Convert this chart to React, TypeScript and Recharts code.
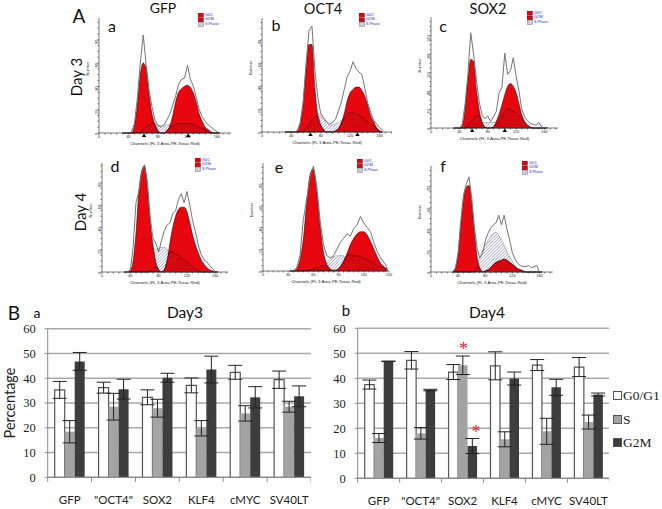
import {
  Area,
  Bar,
  BarChart,
  CartesianGrid,
  ComposedChart,
  ErrorBar,
  Line,
  ReferenceDot,
  XAxis,
  YAxis,
} from 'recharts'

const SANS = 'Lato, "Open Sans", sans-serif'
const SERIF = '"Liberation Serif", serif'
const TINY = '"Liberation Sans", sans-serif'

// flow cytometry histograms: shared channel grid
const channels = [32, 36, 40, 44, 48, 52, 56, 60, 64, 68, 72, 76, 80, 84, 88, 92, 96, 100, 104, 108, 112, 116, 120, 124, 128, 132, 136, 140, 144, 148, 152, 156, 160, 164]

const aRaw = [0, 0, 0, 1, 8, 30, 60, 84, 58, 36, 22, 11, 6, 5, 7, 11, 16, 24, 32, 42, 46, 47, 58, 46, 40, 30, 20, 14, 10, 7, 5, 3, 1, 0]
const aG1 = [0, 0, 0, 0, 6, 24, 50, 60, 55, 32, 16, 7, 2, 0]
const aG2 = [0, 0, 0, 0, 0, 0, 0, 0, 0, 0, 0, 0, 0, 0, 0, 2, 6, 15, 27, 35, 38, 40, 41, 39, 34, 26, 16, 10, 5, 3, 1, 0]
const aS = [0, 0, 0, 0, 0, 0, 0, 0, 0, 8, 8, 8, 7, 6, 6, 7, 7, 0]
const aHatch = [0, 0, 0, 0, 0, 0, 1, 3, 5, 7, 9, 7, 2, 0, 0, 2, 5, 6, 7, 8, 8, 8, 8, 8, 7, 6, 5, 4, 3, 1, 0]

const bRaw = [0, 0, 0, 0, 1, 8, 26, 60, 88, 92, 54, 30, 16, 12, 9, 7, 8, 11, 18, 26, 37, 48, 53, 61, 55, 52, 50, 38, 25, 17, 10, 7, 4, 1]
const bG1 = [0, 0, 0, 0, 1, 7, 24, 54, 76, 76, 38, 14, 6, 2, 0]
const bG2 = [0, 0, 0, 0, 0, 0, 0, 0, 0, 0, 0, 0, 0, 0, 0, 0, 0, 1, 3, 8, 16, 27, 34, 37, 39, 39, 36, 31, 23, 14, 9, 4, 1, 0]
const bS = [0, 0, 0, 0, 0, 0, 0, 0, 0, 0, 0, 16, 14, 11, 8, 6, 6, 7, 8, 10, 0]
const bHatch = [0, 0, 0, 0, 0, 0, 1, 3, 6, 10, 13, 14, 6, 2, 0, 0, 0, 1, 3, 7, 12, 15, 17, 17, 16, 15, 13, 11, 9, 7, 5, 3, 1, 0]

const cRaw = [0, 0, 0, 4, 26, 58, 103, 80, 52, 28, 14, 10, 13, 7, 12, 18, 38, 44, 81, 58, 62, 76, 56, 40, 20, 12, 8, 5, 4, 3, 6, 1, 0, 0]
const cG1 = [0, 0, 0, 2, 20, 52, 74, 72, 41, 19, 6, 1, 0]
const cG2 = [0, 0, 0, 0, 0, 0, 0, 0, 0, 0, 0, 0, 0, 0, 1, 7, 15, 25, 36, 45, 48, 45, 38, 26, 14, 7, 3, 1, 0]
const cS = [0, 0, 0, 0, 0, 0, 0, 0, 0, 6, 6, 6, 6, 6, 6, 6, 0]
const cHatch = [0, 0, 0, 0, 0, 3, 7, 10, 13, 13, 6, 1, 0, 0, 1, 4, 8, 13, 18, 21, 20, 18, 16, 13, 10, 6, 3, 1, 0]

const dRaw = [0, 0, 2, 22, 62, 72, 90, 96, 82, 50, 30, 26, 18, 28, 37, 42, 44, 52, 55, 65, 70, 62, 72, 60, 46, 36, 24, 16, 11, 9, 6, 3, 0, 0]
const dG1 = [0, 0, 1, 10, 34, 71, 90, 95, 75, 44, 24, 9, 2, 0]
const dG2 = [0, 0, 0, 0, 0, 0, 0, 0, 0, 0, 0, 0, 0, 0, 2, 10, 26, 40, 50, 56, 58, 58, 54, 44, 33, 24, 17, 11, 7, 4, 2, 1, 0]
const dS = [0, 0, 0, 0, 0, 0, 0, 0, 0, 0, 16, 20, 21, 22, 22, 20, 10, 0]
const dHatch = [0, 0, 0, 0, 0, 0, 0, 0, 0, 1, 3, 5, 2, 0, 2, 10, 18, 18, 16, 15, 13, 11, 9, 7, 5, 3, 1, 0]

const eRaw = [0, 0, 3, 14, 47, 66, 86, 96, 78, 46, 24, 14, 12, 14, 20, 26, 30, 34, 32, 39, 42, 50, 44, 40, 36, 26, 18, 12, 8, 3]
const eG1 = [0, 0, 2, 10, 29, 62, 88, 94, 72, 41, 17, 6, 2, 0]
const eG2 = [0, 0, 0, 0, 0, 0, 0, 0, 0, 0, 0, 0, 0, 0, 1, 4, 9, 16, 24, 30, 34, 36, 36, 33, 27, 20, 13, 7, 4, 2]
const eS = [0, 0, 0, 0, 0, 0, 0, 0, 0, 0, 0, 8, 11, 13, 14, 14, 14, 0]
const eHatch = [0, 0, 0, 0, 0, 0, 1, 2, 3, 4, 5, 5, 1, 1, 1, 4, 9, 14, 15, 14, 14, 13, 12, 10, 9, 7, 5, 4, 3, 1]

const fRaw = [0, 4, 18, 48, 72, 82, 89, 70, 42, 22, 13, 17, 29, 36, 41, 44, 46, 53, 44, 53, 40, 30, 18, 12, 8, 6, 5, 5, 6, 4, 5, 6, 0, 0]
const fG1 = [0, 3, 16, 44, 68, 79, 81, 64, 37, 14, 4, 0]
const fG2 = [0, 0, 0, 0, 0, 0, 0, 0, 0, 0, 0, 0, 1, 2, 4, 7, 9, 10, 11, 12, 11, 9, 7, 5, 3, 2, 1, 0]
const fS = [0, 0, 0, 0, 0, 0, 0, 0, 0, 8, 14, 20, 25, 29, 33, 36, 37, 34, 30, 25, 19, 14, 10, 6, 3, 1, 0]
const fHatch = [0, 0, 0, 0, 0, 0, 0, 0, 1, 4, 3, 0, 1, 2, 4, 7, 9, 10, 11, 12, 11, 9, 7, 5, 3, 2, 1, 0]

const channelTicks = [0, 8, 16, 24, 32, 40, 48, 56, 64, 72, 80, 88, 96, 104, 112, 120, 128, 136, 144, 152, 160, 168, 176]
const channelTicksE = [0, 6, 12, 18, 24, 30, 36, 42, 48, 54, 60, 66, 72, 78, 84, 90, 96, 102, 108, 114, 120, 126, 132, 138, 144, 150]
const numberTicks = [0, 5, 10, 15, 20, 25, 30, 35, 40, 45, 50, 55, 60, 65, 70, 75, 80, 85, 90, 95]
const numberTicksC = [0, 5, 10, 15, 20, 25, 30, 35, 40, 45, 50, 55, 60, 65, 70, 75, 80, 85, 90, 95, 100, 105, 110, 115]
const phaseNames = ['G0/1', 'G2/M', 'S-Phase']

// bar charts
const cellLines = ['GFP', '"OCT4"', 'SOX2', 'KLF4', 'cMYC', 'SV40LT']

const day3G0 = [35.3, 36.2, 32.3, 37.1, 42.4, 39.4]
const day3S = [18.4, 28.5, 27.9, 19.8, 25.8, 28.5]
const day3G2 = [46.8, 35.6, 40.2, 43.5, 32.3, 32.7]
const day3G0Err = [3.4, 2.2, 3, 3, 2.8, 3.5]
const day3SErr = [4.5, 5.4, 3.6, 3.1, 3.1, 2.2]
const day3G2Err = [3.6, 4, 1.8, 5.4, 4.3, 4.2]

const day4G0 = [37.5, 47.2, 42.5, 45, 45.3, 44.5]
const day4S = [16.1, 18, 45.2, 15.6, 18.8, 22.5]
const day4G2 = [46.8, 35.3, 12.9, 39.9, 36.4, 33.5]
const day4G0Err = [1.8, 3.5, 3, 5.6, 2.2, 3.8]
const day4SErr = [1.8, 2.3, 3.7, 3, 5.2, 2.8]
const day4G2Err = [0.1, 0.3, 3, 2.6, 3.2, 0.6]

const legendItems = ['G0/G1', 'S', 'G2M']
const legendColors = ['#ffffff', '#a3a3a3', '#3d3d3d']

function Txt({ x, y, size, children, rotate, font = SANS, color = '#111' }: any) {
  return (
    <div
      style={{
        position: 'absolute',
        left: x,
        top: y,
        fontFamily: font,
        fontSize: size,
        color,
        lineHeight: 1,
        whiteSpace: 'nowrap',
        transform: `translate(-50%, -50%)${rotate ? ` rotate(${rotate}deg)` : ''}`,
      }}
    >
      {children}
    </div>
  )
}

function PhaseLegend({ x, y }: { x: number; y: number }) {
  return (
    <div style={{ position: 'absolute', left: x, top: y }}>
      {phaseNames.map((name, i) => (
        <div key={name} style={{ display: 'flex', alignItems: 'center', height: 4.6 }}>
          <svg width={6} height={4.6}>
            <rect x={0} y={0} width={5.5} height={4.4} fill={i === 2 ? '#ccd' : '#c8101a'} stroke={i === 2 ? '#555' : '#900'} strokeWidth={0.4} />
          </svg>
          <span style={{ marginLeft: 1, fontFamily: TINY, fontSize: 3.6, lineHeight: 1, color: '#2a2ac0' }}>{name}</span>
        </div>
      ))}
    </div>
  )
}

function Histogram({ left, right, top, base, xMax, yMax, raw, g1, g2, s, hatch, xTicks, every = 40, yTicks = numberTicks, peaks = [] }: any) {
  const rows = channels
    .map((channel, i) => ({
      channel,
      raw: raw[i] ?? 0,
      g1: g1[i] ?? 0,
      g2: g2[i] ?? 0,
      s: s[i] ?? 0,
      hatch: hatch[i] ?? 0,
    }))
    .filter((r) => r.channel <= xMax)
  const axisColor = '#222'
  return (
    <div style={{ position: 'absolute', left: left - 16, top }}>
      <ComposedChart width={right - left + 24} height={base - top + 13} data={rows} margin={{ top: 0, right: 8, bottom: 0, left: 0 }}>
        <defs>
          <pattern id="hatchBlue" width={2.2} height={2.2} patternUnits="userSpaceOnUse" patternTransform="rotate(-45)">
            <line x1={0} y1={0} x2={2.2} y2={0} stroke="#5a64b8" strokeWidth={0.8} />
          </pattern>
          <pattern id="hatchDark" width={2.2} height={2.2} patternUnits="userSpaceOnUse" patternTransform="rotate(-45)">
            <line x1={0} y1={0} x2={2.2} y2={0} stroke="#6a0a10" strokeWidth={0.7} />
          </pattern>
        </defs>
        <XAxis
          dataKey="channel"
          type="number"
          domain={[0, xMax]}
          ticks={xTicks}
          interval={0}
          height={13}
          tickSize={1.5}
          tickMargin={0.5}
          stroke={axisColor}
          strokeWidth={0.6}
          tick={{ fontSize: 3.8, fontFamily: TINY, fill: '#222' }}
          tickFormatter={(v: number) => (v % every === 0 ? String(v) : '')}
          label={{ value: 'Channels (FL 3 Area-PE-Texas Red)', position: 'insideBottom', offset: 1, fontSize: 4.3, fontFamily: TINY, fill: '#222' }}
        />
        <YAxis
          type="number"
          domain={[0, yMax]}
          ticks={yTicks}
          interval={0}
          width={16}
          tickSize={1.5}
          tickMargin={0.5}
          stroke={axisColor}
          strokeWidth={0.6}
          angle={-90}
          tick={{ fontSize: 3.8, fontFamily: TINY, fill: '#222' }}
          tickFormatter={(v: number) => (v > 0 && v % 20 === 0 ? String(v) : v === 0 ? '0' : '')}
          label={{ value: 'Number', angle: -90, position: 'insideLeft', offset: 5, fontSize: 4, fontFamily: TINY, fill: '#222' }}
        />
        <Area type="monotone" dataKey="s" fill="url(#hatchBlue)" fillOpacity={1} stroke="#555" strokeWidth={0.4} isAnimationActive={false} />
        <Area type="monotone" dataKey="g1" fill="#e8060f" fillOpacity={1} stroke="#111" strokeWidth={0.6} isAnimationActive={false} />
        <Area type="monotone" dataKey="g2" fill="#e8060f" fillOpacity={1} stroke="#111" strokeWidth={0.6} isAnimationActive={false} />
        <Area type="monotone" dataKey="hatch" fill="url(#hatchDark)" fillOpacity={1} stroke="#3a0508" strokeWidth={0.5} isAnimationActive={false} />
        <Line type="linear" dataKey="raw" stroke="#757575" strokeWidth={1} dot={false} isAnimationActive={false} />
        {peaks.map((p: number) => (
          <ReferenceDot
            key={p}
            x={p}
            y={0}
            ifOverflow="visible"
            shape={({ cx, cy }: any) => <path d={`M${cx} ${cy + 0.5}l2.2 3.6h-4.4z`} fill="#000" />}
          />
        ))}
      </ComposedChart>
    </div>
  )
}

function CategoryTick({ x, y, payload, index, band, count }: any) {
  const y0 = y - 8
  return (
    <g>
      <line x1={x - band / 2} x2={x - band / 2} y1={y0} y2={y0 + 4.5} stroke="#8c8c8c" />
      {index === count - 1 && <line x1={x + band / 2} x2={x + band / 2} y1={y0} y2={y0 + 4.5} stroke="#8c8c8c" />}
      <text x={x} y={y0 + 27} textAnchor="middle" fontFamily={SANS} fontSize={11.5} fill="#222">
        {payload.value}
      </text>
    </g>
  )
}

function CyclePanel({ left, top, axisLeft, plotWidth, marginTop, axisHeight, barSize, gap, g0, s, g2, g0Err, sErr, g2Err, yLabel }: any) {
  const rows = cellLines.map((name, i) => ({
    name,
    g0: g0[i],
    s: s[i],
    g2: g2[i],
    g0Err: g0Err[i],
    sErr: sErr[i],
    g2Err: g2Err[i],
  }))
  const band = plotWidth / cellLines.length
  return (
    <div style={{ position: 'absolute', left, top }}>
      <BarChart
        width={axisLeft + plotWidth}
        height={189}
        data={rows}
        barSize={barSize}
        barGap={0}
        barCategoryGap={gap}
        margin={{ top: marginTop, right: 0, bottom: 0, left: 0 }}
      >
        <CartesianGrid vertical={false} stroke="#a9a9a9" strokeWidth={1.4} />
        <XAxis
          dataKey="name"
          height={axisHeight}
          interval={0}
          tickLine={false}
          stroke="#8c8c8c"
          strokeWidth={1.2}
          tick={<CategoryTick band={band} count={cellLines.length} />}
        />
        <YAxis
          type="number"
          domain={[0, 60]}
          ticks={[0, 10, 20, 30, 40, 50, 60]}
          width={axisLeft}
          tickSize={3}
          tickMargin={9}
          stroke="#8c8c8c"
          tick={{ fontFamily: SERIF, fontSize: 12.5, fill: '#222' }}
          label={
            yLabel
              ? { value: 'Percentage', angle: -90, position: 'insideLeft', offset: 10, dy: 0, style: { fontFamily: SANS, fontSize: 14.5, fill: '#222', textAnchor: 'middle' } }
              : undefined
          }
        />
        <Bar dataKey="g0" fill="#ffffff" stroke="#555" strokeWidth={1.2} isAnimationActive={false}>
          <ErrorBar dataKey="g0Err" width={7} stroke="#222" strokeWidth={1} isAnimationActive={false} />
        </Bar>
        <Bar dataKey="s" fill="#a3a3a3" isAnimationActive={false}>
          <ErrorBar dataKey="sErr" width={7} stroke="#222" strokeWidth={1} isAnimationActive={false} />
        </Bar>
        <Bar dataKey="g2" fill="#3d3d3d" isAnimationActive={false}>
          <ErrorBar dataKey="g2Err" width={7} stroke="#222" strokeWidth={1} isAnimationActive={false} />
        </Bar>
      </BarChart>
    </div>
  )
}

export default function App() {
  return (
    <div style={{ position: 'absolute', left: 0, top: 0, width: 662, height: 509, background: '#fff', overflow: 'hidden' }}>
      <Histogram left={99} right={231} top={18} base={133} xMax={179} yMax={98.6} raw={aRaw} g1={aG1} g2={aG2} s={aS} hatch={aHatch} xTicks={channelTicks} peaks={[61, 121]} />
      <Histogram left={262} right={392} top={18} base={132} xMax={177} yMax={99} raw={bRaw} g1={bG1} g2={bG2} s={bS} hatch={bHatch} xTicks={channelTicks} peaks={[66, 130]} />
      <Histogram left={431} right={558} top={17} base={128} xMax={179} yMax={120} raw={cRaw} g1={cG1} g2={cG2} s={cS} hatch={cHatch} xTicks={channelTicks} yTicks={numberTicksC} peaks={[58, 104]} />
      <Histogram left={102} right={228} top={163} base={272} xMax={178} yMax={97.6} raw={dRaw} g1={dG1} g2={dG2} s={dS} hatch={dHatch} xTicks={channelTicks} />
      <Histogram left={263} right={389} top={163} base={271} xMax={150} yMax={99} raw={eRaw} g1={eG1} g2={eG2} s={eS} hatch={eHatch} xTicks={channelTicksE} every={30} />
      <Histogram left={431} right={553} top={166} base={272} xMax={180} yMax={99} raw={fRaw} g1={fG1} g2={fG2} s={fS} hatch={fHatch} xTicks={channelTicks} />

      <PhaseLegend x={198} y={13} />
      <PhaseLegend x={359} y={13} />
      <PhaseLegend x={527} y={11} />
      <PhaseLegend x={195} y={158} />
      <PhaseLegend x={357} y={159} />
      <PhaseLegend x={522} y={161} />

      <Txt x={79} y={15} size={19}>A</Txt>
      <Txt x={163} y={8} size={14}>GFP</Txt>
      <Txt x={323} y={9} size={14.5}>OCT4</Txt>
      <Txt x={488} y={9} size={14.5}>SOX2</Txt>
      <Txt x={112} y={26} size={16}>a</Txt>
      <Txt x={276} y={25} size={16}>b</Txt>
      <Txt x={443} y={26} size={16}>c</Txt>
      <Txt x={115} y={166} size={16}>d</Txt>
      <Txt x={279} y={167} size={16}>e</Txt>
      <Txt x={443} y={166} size={16}>f</Txt>
      <Txt x={76} y={77} size={15} rotate={-90}>Day 3</Txt>
      <Txt x={80} y={212} size={15} rotate={-90}>Day 4</Txt>

      <CyclePanel left={0} top={320} axisLeft={47.7} plotWidth={263.3} marginTop={8.7} axisHeight={31.7} barSize={10} gap={7} g0={day3G0} s={day3S} g2={day3G2} g0Err={day3G0Err} sErr={day3SErr} g2Err={day3G2Err} yLabel />
      <CyclePanel left={330} top={320} axisLeft={27.7} plotWidth={251.6} marginTop={8.3} axisHeight={30.7} barSize={9.5} gap={6.4} g0={day4G0} s={day4S} g2={day4G2} g0Err={day4G0Err} sErr={day4SErr} g2Err={day4G2Err} />

      <Txt x={14} y={312} size={19}>B</Txt>
      <Txt x={37} y={313} size={14}>a</Txt>
      <Txt x={185} y={313} size={15.5}>Day3</Txt>
      <Txt x={346} y={310} size={15}>b</Txt>
      <Txt x={487} y={313} size={15.5}>Day4</Txt>
      <Txt x={463.5} y={349} size={18} color="#d8232a" font={SERIF}>*</Txt>
      <Txt x={476} y={432} size={18} color="#d8232a" font={SERIF}>*</Txt>

      {legendItems.map((name, i) => (
        <div key={name} style={{ position: 'absolute', left: 613, top: [389, 413, 436][i], display: 'flex', alignItems: 'center' }}>
          <div style={{ width: 7, height: 7, background: legendColors[i], border: '1px solid #555' }} />
          <span style={{ marginLeft: 1, fontFamily: SERIF, fontSize: 13.5, lineHeight: 1, color: '#222' }}>{name}</span>
        </div>
      ))}
    </div>
  )
}
